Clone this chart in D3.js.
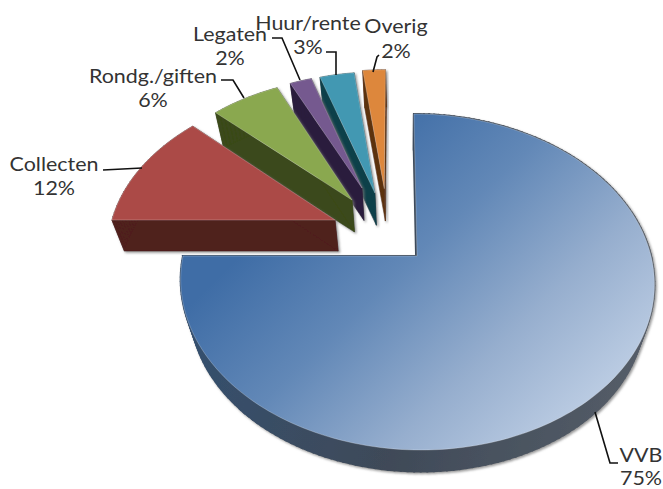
<!DOCTYPE html>
<html><head><meta charset="utf-8">
<script src="https://cdn.jsdelivr.net/npm/d3@7/dist/d3.min.js"></script>
<style>html,body{margin:0;padding:0;background:#fff}svg{display:block}text{font-family:Lato,sans-serif;font-size:19.5px;fill:#333;text-anchor:middle;dominant-baseline:central}</style>
</head><body><svg id="c" width="663" height="489"></svg>
<script>
const categories=["VVB","Collecten","Rondg./giften","Legaten","Huur/rente","Overig"];
const values=[75,12,6,2,3,2];
const topColors=["url(#blue)","#ab4a47","#8aa84f","#75598f","#4298b2","#dd873c"];
const sideColors=["url(#blueSide)","#50201f","#3a4a1a","#2b1c3c","#0f3f49","#5c3310"];
// explosion: distance in disc units, turn in degrees relative to mid-angle
const explodeDist=[0,0.425,0.461,0.506,0.448,0.461];
const explodeTurn=[0,10.7,-2.6,-7.3,-11.8,-14.4];
const sliceScale=[1,0.987,0.95,0.9,0.95,0.94];
const labelPos=[[641,454],[54,163],[153,75],[230,33],[308,22],[396,25]];
const labelGap=[23.5,24,24,24,24,25];
const textStretch=1.1;
const leaders=[[[595,412],[610,463],[618,463]],[[103,170],[142,168]],[[221,80],[233,80],[244,98]],[[272,38],[282,38],[300,80]],[[326,52],[336,52],[336,75]],[[379,55],[377,57],[373,72]]];

const svg=d3.select("#c");
const defs=svg.append("defs");
function grad(id,x1,y1,x2,y2,stops){
  const g=defs.append("linearGradient").attr("id",id).attr("gradientUnits","userSpaceOnUse")
    .attr("x1",x1).attr("y1",y1).attr("x2",x2).attr("y2",y2);
  stops.forEach(s=>g.append("stop").attr("offset",s[0]).attr("stop-color",s[1]));
}
grad("blue",330,170,570,420,[[0,"#3f6da6"],[0.35,"#6288b7"],[0.7,"#96aece"],[1,"#bacbe2"]]);
grad("blueSide",190,300,640,400,[[0,"#34506f"],[0.5,"#3f4a58"],[1,"#555d68"]]);
const f=defs.append("filter").attr("id","sh").attr("x","-10%").attr("y","-10%").attr("width","120%").attr("height","120%");
f.append("feDropShadow").attr("dx",1.5).attr("dy",1.5).attr("stdDeviation",1.3).attr("flood-color","#777").attr("flood-opacity",0.75);

// perspective disc -> screen
const K=0.1548,AX=417,AY=256,RX=234,SK=61,WY=164;
function project(u,v){
  const den=1+K*v;
  return [(AX+RX*u+SK*v)/den, AY-WY*v/den];
}
// extrusion towards a vanishing point
const VP=[410,960],DEPTH=0.042;
const extrude=p=>[p[0]+DEPTH*(VP[0]-p[0]),p[1]+DEPTH*(VP[1]-p[1])];

const arcs=d3.pie().sort(null).value(d=>d).startAngle(0).endAngle(2*Math.PI)(values);
const line=d3.line();
function outline(a,i){
  const mid=(a.startAngle+a.endAngle)/2+explodeTurn[i]*Math.PI/180;
  const ox=Math.sin(mid)*explodeDist[i],oy=Math.cos(mid)*explodeDist[i];
  const n=Math.max(4,Math.ceil((a.endAngle-a.startAngle)*40));
  const pts=[project(ox,oy)];
  d3.range(n+1).forEach(k=>{
    const t=a.startAngle+(a.endAngle-a.startAngle)*k/n;
    pts.push(project(ox+sliceScale[i]*Math.sin(t),oy+sliceScale[i]*Math.cos(t)));
  });
  return pts;
}
const order=[0,5,4,3,2,1];
order.forEach(i=>{
  const pts=outline(arcs[i],i);
  const g=svg.append("g").attr("class","slice");
  const side=g.append("g").attr("filter","url(#sh)");
  const low=pts.map(extrude);
  side.selectAll("path").data(pts.map((p,k)=>[p,pts[(k+1)%pts.length],low[(k+1)%pts.length],low[k]]))
    .join("path").attr("d",d=>line(d)+"Z").attr("fill",sideColors[i]).attr("stroke",sideColors[i]).attr("stroke-width",i==0?2:0.6);
  g.append("path").attr("d",line(pts)+"Z").attr("fill",topColors[i]).attr("stroke","#fff").attr("stroke-opacity",0.35).attr("stroke-width",0.7);
});
leaders.forEach(l=>svg.append("path").attr("d",line(l)).attr("fill","none").attr("stroke","#111").attr("stroke-width",1.6));
categories.forEach((c,i)=>{
  const [x,y]=labelPos[i];
  svg.append("text").attr("transform",`translate(${x},${y}) scale(${textStretch},1)`).text(c);
  svg.append("text").attr("transform",`translate(${x},${y+labelGap[i]}) scale(${textStretch},1)`).text(values[i]+"%");
});
</script></body></html>
